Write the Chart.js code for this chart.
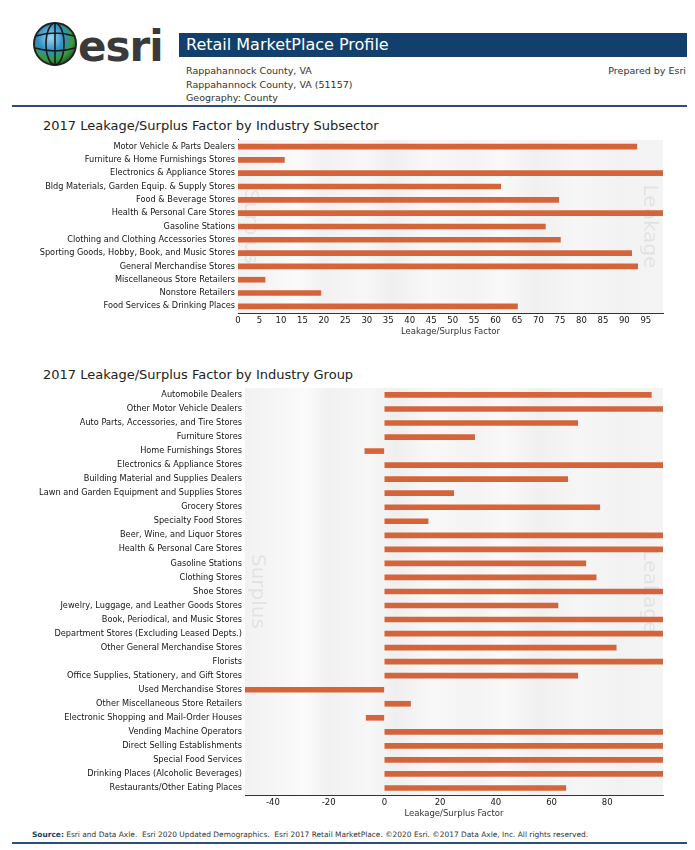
<!DOCTYPE html>
<html><head><meta charset="utf-8">
<script src="https://cdn.jsdelivr.net/npm/chart.js@4.4.1/dist/chart.umd.min.js"></script>
<style>
body{margin:0;width:695px;height:850px;background:#fff;position:relative;font-family:"DejaVu Sans",Verdana,sans-serif;overflow:hidden;color:#333}
.abs{position:absolute;white-space:nowrap}
#bar{left:179px;top:33px;width:508px;height:24px;background:#123f6b}
#bar span{position:absolute;left:7px;top:2px;color:#fff;font-size:16px}
.sub{font-size:9.5px;color:#333}
.rule{height:2px;background:#2d4f73;left:12px;width:675px}
.ctitle{font-size:13px;color:#222;left:43px}
#c1wrap{left:0;top:132px;width:695px;height:205px}
#c2wrap{left:0;top:380px;width:695px;height:439px}
#foot{left:32px;top:830px;font-size:7.45px;color:#333}
#foot b{color:#1d3c66}
</style></head><body>

<svg class="abs" style="left:30px;top:18px" width="135" height="52" viewBox="0 0 135 52">
  <defs>
    <radialGradient id="g" cx="40%" cy="35%" r="70%">
      <stop offset="0" stop-color="#9fd6f0"/>
      <stop offset="0.45" stop-color="#2f8fc9"/>
      <stop offset="0.75" stop-color="#3a9a3c"/>
      <stop offset="1" stop-color="#1b4f2a"/>
    </radialGradient>
  </defs>
  <circle cx="25" cy="26" r="21" fill="url(#g)" stroke="#222" stroke-width="2"/>
  <g fill="none" stroke="#1a1a1a" stroke-width="1.6">
    <ellipse cx="25" cy="26" rx="9" ry="21"/>
    <path d="M6 18 Q25 12 44 18 M5 30 Q25 36 45 30 M25 5 L25 47"/>
  </g>
  <text x="48" y="43" font-family="DejaVu Sans, sans-serif" font-weight="bold" font-size="42" fill="#3a3a3a" letter-spacing="-1">esri</text>
</svg>

<div id="bar" class="abs"><span>Retail MarketPlace Profile</span></div>
<div class="abs sub" style="left:186px;top:65px">Rappahannock County, VA</div>
<div class="abs sub" style="left:186px;top:79px">Rappahannock County, VA (51157)</div>
<div class="abs sub" style="left:186px;top:92px">Geography: County</div>
<div class="abs sub" style="right:9px;top:65px">Prepared by Esri</div>
<div class="abs rule" style="top:105px"></div>

<div class="abs ctitle" style="top:118px">2017 Leakage/Surplus Factor by Industry Subsector</div>
<div id="c1wrap" class="abs"><canvas id="c1"></canvas></div>

<div class="abs ctitle" style="top:367px">2017 Leakage/Surplus Factor by Industry Group</div>
<div id="c2wrap" class="abs"><canvas id="c2"></canvas></div>

<div id="foot" class="abs"><b>Source:</b> Esri and Data Axle.&nbsp; Esri 2020 Updated Demographics.&nbsp; Esri 2017 Retail MarketPlace. ©2020 Esri. ©2017 Data Axle, Inc. All rights reserved.</div>
<div class="abs rule" style="top:842px"></div>

<script>
const subsectorLabels = [
  "Motor Vehicle & Parts Dealers",
  "Furniture & Home Furnishings Stores",
  "Electronics & Appliance Stores",
  "Bldg Materials, Garden Equip. & Supply Stores",
  "Food & Beverage Stores",
  "Health & Personal Care Stores",
  "Gasoline Stations",
  "Clothing and Clothing Accessories Stores",
  "Sporting Goods, Hobby, Book, and Music Stores",
  "General Merchandise Stores",
  "Miscellaneous Store Retailers",
  "Nonstore Retailers",
  "Food Services & Drinking Places"
];
const subsectorValues = [92.9, 10.8, 100, 61.2, 74.7, 100, 71.6, 75.1, 91.7, 93.1, 6.3, 19.3, 65.1];
const subsectorTicks = [0,5,10,15,20,25,30,35,40,45,50,55,60,65,70,75,80,85,90,95];

const groupLabels = [
  "Automobile Dealers",
  "Other Motor Vehicle Dealers",
  "Auto Parts, Accessories, and Tire Stores",
  "Furniture Stores",
  "Home Furnishings Stores",
  "Electronics & Appliance Stores",
  "Building Material and Supplies Dealers",
  "Lawn and Garden Equipment and Supplies Stores",
  "Grocery Stores",
  "Specialty Food Stores",
  "Beer, Wine, and Liquor Stores",
  "Health & Personal Care Stores",
  "Gasoline Stations",
  "Clothing Stores",
  "Shoe Stores",
  "Jewelry, Luggage, and Leather Goods Stores",
  "Book, Periodical, and Music Stores",
  "Department Stores (Excluding Leased Depts.)",
  "Other General Merchandise Stores",
  "Florists",
  "Office Supplies, Stationery, and Gift Stores",
  "Used Merchandise Stores",
  "Other Miscellaneous Store Retailers",
  "Electronic Shopping and Mail-Order Houses",
  "Vending Machine Operators",
  "Direct Selling Establishments",
  "Special Food Services",
  "Drinking Places (Alcoholic Beverages)",
  "Restaurants/Other Eating Places"
];
const groupValues = [95.8, 100, 69.4, 32.4, -7.0, 100, 65.8, 24.9, 77.3, 15.7, 100, 100, 72.3, 76.0, 100, 62.3,
                     100, 100, 83.2, 100, 69.4, -50, 9.4, -6.5, 100, 100, 100, 100, 65.1];
const groupTicks = [-40, -20, 0, 20, 40, 60, 80];

const barColor = '#d6643a';
const FONT = '"DejaVu Sans", Verdana, sans-serif';

const bgPlugin = {
  id: 'bgPlugin',
  beforeDatasetsDraw(chart) {
    const {ctx, chartArea: a} = chart;
    ctx.save();
    const g = ctx.createLinearGradient(a.left, 0, a.right, 0);
    const stops = [[0,'#f2f2f2'],[0.08,'#f6f6f6'],[0.14,'#fbfbfb'],[0.2,'#f1f1f1'],[0.3,'#f7f7f7'],[0.36,'#efefef'],[0.45,'#f8f8f8'],
                   [0.55,'#f3f3f3'],[0.62,'#f9f9f9'],[0.7,'#f0f0f0'],[0.8,'#f6f6f6'],[0.9,'#f2f2f2'],[1,'#f4f4f4']];
    stops.forEach(s => g.addColorStop(s[0], s[1]));
    ctx.fillStyle = g;
    ctx.fillRect(a.left, a.top, a.right - a.left, a.bottom - a.top);
    ctx.fillStyle = 'rgba(0,0,0,0.07)';
    ctx.font = '20px ' + FONT;
    const mid = (a.top + a.bottom) / 2;
    [['Surplus', a.left + 12], ['Leakage', a.right - 14]].forEach(([t, x]) => {
      ctx.save();
      ctx.translate(x, mid);
      ctx.rotate(Math.PI / 2);
      ctx.textAlign = 'center';
      ctx.textBaseline = 'middle';
      ctx.fillText(t, 0, 0);
      ctx.restore();
    });
    ctx.restore();
  }
};

function makeChart(id, labels, values, min, max, ticks, yWidth, xHeight, padTop, padRight, zeroLine) {
  return new Chart(document.getElementById(id), {
    type: 'bar',
    data: { labels, datasets: [{ data: values, backgroundColor: barColor, barThickness: 5 }] },
    options: {
      indexAxis: 'y',
      responsive: true,
      maintainAspectRatio: false,
      animation: false,
      layout: { padding: { top: padTop, right: padRight, left: 0, bottom: 0 } },
      plugins: { legend: { display: false }, tooltip: { enabled: false } },
      scales: {
        y: {
          type: 'category',
          grid: { display: false, drawTicks: false },
          border: { display: !zeroLine, color: '#333', width: 1 },
          ticks: { color: '#151515', font: { family: FONT, size: 8.2 }, padding: 3, autoSkip: false },
          afterFit(s) { s.width = yWidth; }
        },
        x: {
          min, max,
          afterBuildTicks(s) { s.ticks = ticks.map(v => ({ value: v })); },
          grid: {
            display: zeroLine,
            drawTicks: false,
            color: c => (c.tick && c.tick.value === 0) ? '#333' : 'rgba(0,0,0,0)',
            lineWidth: 1
          },
          border: { display: true, color: '#333', width: 1 },
          ticks: { color: '#151515', font: { family: FONT, size: 8.5 }, padding: 3, maxRotation: 0, autoSkip: false },
          title: { display: true, text: 'Leakage/Surplus Factor', color: '#333', font: { family: FONT, size: 8.5 }, padding: { top: 1, bottom: 0 } },
          afterFit(s) { s.height = xHeight; }
        }
      }
    },
    plugins: [bgPlugin]
  });
}

makeChart('c1', subsectorLabels, subsectorValues, 0, 99, subsectorTicks, 238, 24, 4, 32, false);
makeChart('c2', groupLabels, groupValues, -50, 100, groupTicks, 245, 24, 5, 32, true);
</script>
</body></html>
